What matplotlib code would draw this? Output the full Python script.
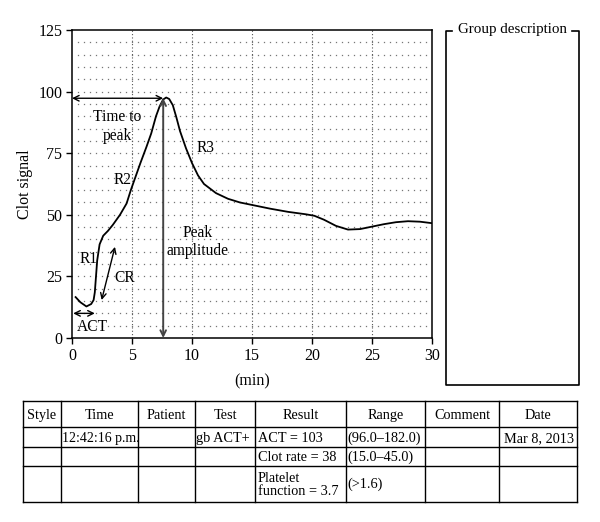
import numpy as np
import matplotlib
matplotlib.use("Agg")
import matplotlib.pyplot as plt

plt.rcParams['font.family'] = ['Liberation Serif', 'DejaVu Serif']

# ---- data ----
time_min = [0.3, 0.7, 1.2, 1.6, 1.8, 1.9, 2.0, 2.1, 2.3, 2.6, 3.0, 3.4, 4.0, 4.55,
            4.9, 5.3, 5.7, 6.2, 6.6, 7.0, 7.3, 7.6, 7.85, 8.1, 8.4, 8.7, 9.0, 9.5,
            10.0, 10.5, 11.0, 12.0, 13.0, 14.0, 15.0, 16.5, 18.0, 19.5, 20.2, 21.0,
            22.0, 23.0, 24.0, 25.0, 26.0, 27.0, 28.0, 29.0, 30.0]
clot_signal = [16.6, 14.5, 12.8, 13.8, 15.4, 18.5, 25.0, 31.5, 38.0, 41.5, 43.5, 45.9,
               50.0, 54.6, 60.0, 65.5, 71.0, 77.5, 83.0, 90.0, 94.0, 96.8, 97.6, 97.0,
               94.5, 89.5, 84.0, 77.0, 71.0, 66.0, 62.5, 58.8, 56.5, 55.0, 54.0, 52.5,
               51.2, 50.2, 49.6, 48.0, 45.5, 44.0, 44.2, 45.2, 46.2, 47.0, 47.4, 47.2,
               46.6]

x_ticks = [0, 5, 10, 15, 20, 25, 30]
y_ticks = [0, 25, 50, 75, 100, 125]

act_arrow = (0.1, 1.9, 10.0)          # x0, x1, y
cr_arrow = ((2.47, 15.4), (3.58, 37.0))
peak_time = 7.6
peak_amp = 97.3

annotations = [("Time to\npeak", 3.8, 85.8), ("R2", 4.25, 64.0), ("R3", 11.1, 77.0),
               ("R1", 1.35, 32.0), ("CR", 4.4, 24.5), ("Peak\namplitude", 10.45, 39.0),
               ("ACT", 1.7, 4.5)]

table_header = ["Style", "Time", "Patient", "Test", "Result", "Range", "Comment", "Date"]
table_rows = [
    ["", "12:42:16 p.m.", "", "gb ACT+", "ACT = 103", "(96.0\u2013182.0)", "", "Mar 8, 2013"],
    ["", "", "", "", "Clot rate = 38", "(15.0\u201345.0)", "", ""],
    ["", "", "", "", "Platelet\nfunction = 3.7", "(>1.6)", "", ""],
]
group_title = "Group description"

# ---- figure ----
W, H = 600, 522
fig = plt.figure(figsize=(6, 5.22), dpi=100)

L, R, T, B = 72, 432, 30, 338
ax = fig.add_axes([L / W, 1 - B / H, (R - L) / W, (B - T) / H])
ax.set_xlim(0, 30)
ax.set_ylim(0, 125)

# dotted grid
gx, gy = np.meshgrid(np.arange(0.5, 30, 0.5), np.arange(5, 125, 5))
ax.plot(gx.ravel(), gy.ravel(), linestyle='none', marker='s', ms=0.9,
        mec='none', mfc='#777777', zorder=1)
for xv in x_ticks[1:-1]:
    ax.axvline(xv, color='#555555', lw=0.8, linestyle=(0, (1, 2)), zorder=1)

ax.plot(time_min, clot_signal, color='black', lw=1.3, zorder=3)

arrow_kw = dict(arrowstyle='<->', color='black', lw=1.0, mutation_scale=10,
                shrinkA=0, shrinkB=0)
ax.annotate('', xy=(0, peak_amp), xytext=(peak_time, peak_amp), arrowprops=arrow_kw)
ax.annotate('', xy=(peak_time, 0), xytext=(peak_time, peak_amp),
            arrowprops=dict(arrow_kw, color='#444444', lw=1.4))
ax.annotate('', xy=(act_arrow[0], act_arrow[2]), xytext=(act_arrow[1], act_arrow[2]),
            arrowprops=arrow_kw)
ax.annotate('', xy=cr_arrow[0], xytext=cr_arrow[1], arrowprops=arrow_kw)

for txt, xv, yv in annotations:
    ax.text(xv, yv, txt, ha='center', va='center', fontsize=11.2, linespacing=1.2,
            zorder=4)

ax.set_xticks(x_ticks)
ax.set_yticks(y_ticks)
ax.tick_params(direction='out', length=4, width=1, labelsize=11.5, pad=3)
for s in ax.spines.values():
    s.set_linewidth(1.1)
ax.set_xlabel("(min)", fontsize=11.5, labelpad=7)
ax.set_ylabel("Clot signal", fontsize=11.5, labelpad=4)

# ---- overlay for group box and table (pixel coords) ----
ov = fig.add_axes([0, 0, 1, 1], zorder=-1)
ov.set_xlim(0, W)
ov.set_ylim(H, 0)
ov.axis('off')

# group description box
bx0, bx1, by0, by1 = 446, 579, 31, 385
lk = dict(color='black', lw=1.2)
ov.plot([452, bx0, bx0, bx1, bx1, 572], [by0, by0, by1, by1, by0, by0], **lk)
ov.text((bx0 + bx1) / 2, by0 - 2, group_title, ha='center', va='center', fontsize=10.8)

# table
col_edges = [23, 61, 138, 195, 255, 346, 425, 499, 577]
row_edges = [401, 427, 447, 466, 502]
for xe in col_edges:
    ov.plot([xe, xe], [row_edges[0], row_edges[-1]], color='black', lw=1.0)
for ye in row_edges:
    ov.plot([col_edges[0], col_edges[-1]], [ye, ye], color='black', lw=1.0)

for j, h in enumerate(table_header):
    ov.text((col_edges[j] + col_edges[j + 1]) / 2, row_edges[1] - 8,
            h, ha='center', va='baseline', fontsize=10.3)

left_pad = {1: 1, 3: 1, 4: 3, 5: 1}
for i, row in enumerate(table_rows):
    top, bot = row_edges[i + 1], row_edges[i + 2]
    for j, cell in enumerate(row):
        if not cell:
            continue
        fs = 10.3 if j != 1 else 10
        if '\n' in cell:
            ov.text(col_edges[j] + left_pad.get(j, 2), (top + bot) / 2 + 1, cell,
                    ha='left', va='center', fontsize=fs, linespacing=0.95)
        elif j == 7:
            ov.text((col_edges[j] + col_edges[j + 1]) / 2 + 1, bot - 5, cell,
                    ha='center', va='baseline', fontsize=fs)
        else:
            yb = bot - 5 if bot - top < 25 else (top + bot) / 2 + 4
            ov.text(col_edges[j] + left_pad.get(j, 2), yb, cell, ha='left',
                    va='baseline', fontsize=fs)

fig.savefig("out.png", dpi=100)
